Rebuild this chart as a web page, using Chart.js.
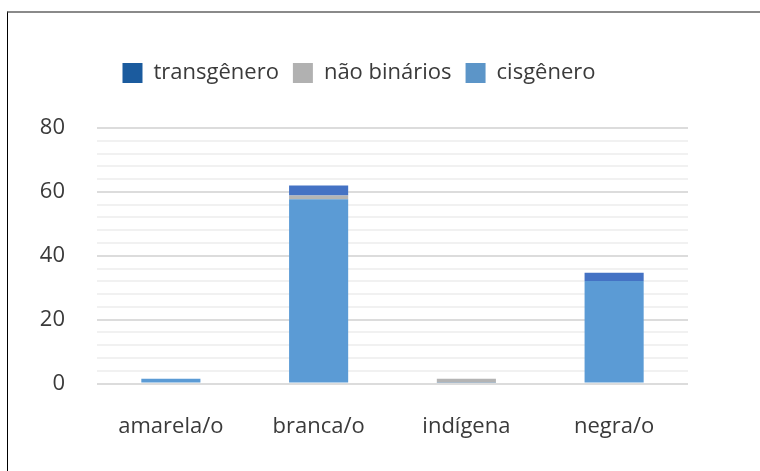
<!DOCTYPE html>
<html>
<head>
<meta charset="utf-8">
<script src="https://cdn.jsdelivr.net/npm/chart.js@4"></script>
<style>
  html, body { margin: 0; padding: 0; background: #fff; }
  #frame {
    position: absolute;
    left: 7px;
    top: 11px;
    width: 753px;
    height: 460px;
    border-top: 2px solid #8a8a8a;
    border-left: 1px solid #000;
  }
  #wrap { position: absolute; left: 0; top: 0; width: 752px; height: 458px; }
</style>
</head>
<body>
<div id="frame"><div id="wrap"><canvas id="raceChart"></canvas></div></div>
<script>
const categories = ['amarela/o', 'branca/o', 'indígena', 'negra/o'];
const cisValues = [1.5, 57.7, 0.3, 32.1];
const naoBinarioValues = [0, 1.2, 1.2, 0];
const transValues = [0, 3.1, 0, 2.6];
const yTicks = [0, 20, 40, 60, 80];

const textColor = '#3a3a3a';
const fontFamily = '"Open Sans", "Noto Sans", sans-serif';

// legend swatches are a shade different from the bars in the original
const legendColors = ['#1B5B9E', '#B1B1B1', '#5C95C8'];

// extra space under the legend, and nudge it a bit to the right
const legendTweak = {
  id: 'legendTweak',
  beforeInit(chart) {
    const fit = chart.legend.fit;
    chart.legend.fit = function () {
      fit.bind(chart.legend)();
      this.height += 34;
    };
  },
  afterLayout(chart) {
    chart.legend.left += 11;
    chart.legend.right += 11;
  },
};

const ctx = document.getElementById('raceChart').getContext('2d');
new Chart(ctx, {
  type: 'bar',
  data: {
    labels: categories,
    datasets: [
      {
        label: 'cisgênero',
        data: cisValues,
        backgroundColor: '#5B9BD5',
        stack: 'Stack 0',
      },
      {
        label: 'não binários',
        data: naoBinarioValues,
        backgroundColor: '#B4B4B4',
        stack: 'Stack 0',
      },
      {
        label: 'transgênero',
        data: transValues,
        backgroundColor: '#4472C4',
        stack: 'Stack 0',
      },
    ],
  },
  options: {
    responsive: true,
    maintainAspectRatio: false,
    animation: false,
    layout: {
      padding: { top: 35, right: 72, bottom: 9, left: 0 },
    },
    datasets: {
      bar: {
        barPercentage: 1,
        categoryPercentage: 0.4,
      },
    },
    plugins: {
      tooltip: { enabled: false },
      legend: {
        display: true,
        position: 'top',
        reverse: true,
        labels: {
          color: textColor,
          boxWidth: 20,
          boxHeight: 20,
          padding: 14,
          font: { family: fontFamily, size: 22 },
          generateLabels(chart) {
            const items = Chart.defaults.plugins.legend.labels.generateLabels(chart);
            items.forEach((item) => {
              const idx = 2 - item.datasetIndex;
              item.fillStyle = legendColors[idx];
              item.strokeStyle = legendColors[idx];
              item.lineWidth = 0;
            });
            return items;
          },
        },
      },
    },
    scales: {
      x: {
        stacked: true,
        grid: { display: false },
        border: { display: false },
        ticks: {
          color: textColor,
          padding: 22,
          font: { family: fontFamily, size: 22 },
        },
      },
      y: {
        stacked: true,
        min: 0,
        max: 80,
        afterFit(scale) {
          scale.width = 89;
        },
        border: { display: false },
        grid: {
          lineWidth: 2,
          drawTicks: false,
          color: (c) => (c.tick && yTicks.includes(c.tick.value) ? '#DCDCDC' : '#F1F1F1'),
        },
        ticks: {
          stepSize: 4,
          autoSkip: false,
          padding: 32,
          color: textColor,
          font: { family: fontFamily, size: 22 },
          callback: (v) => (yTicks.includes(v) ? v : ''),
        },
      },
    },
  },
  plugins: [legendTweak],
});
</script>
</body>
</html>
